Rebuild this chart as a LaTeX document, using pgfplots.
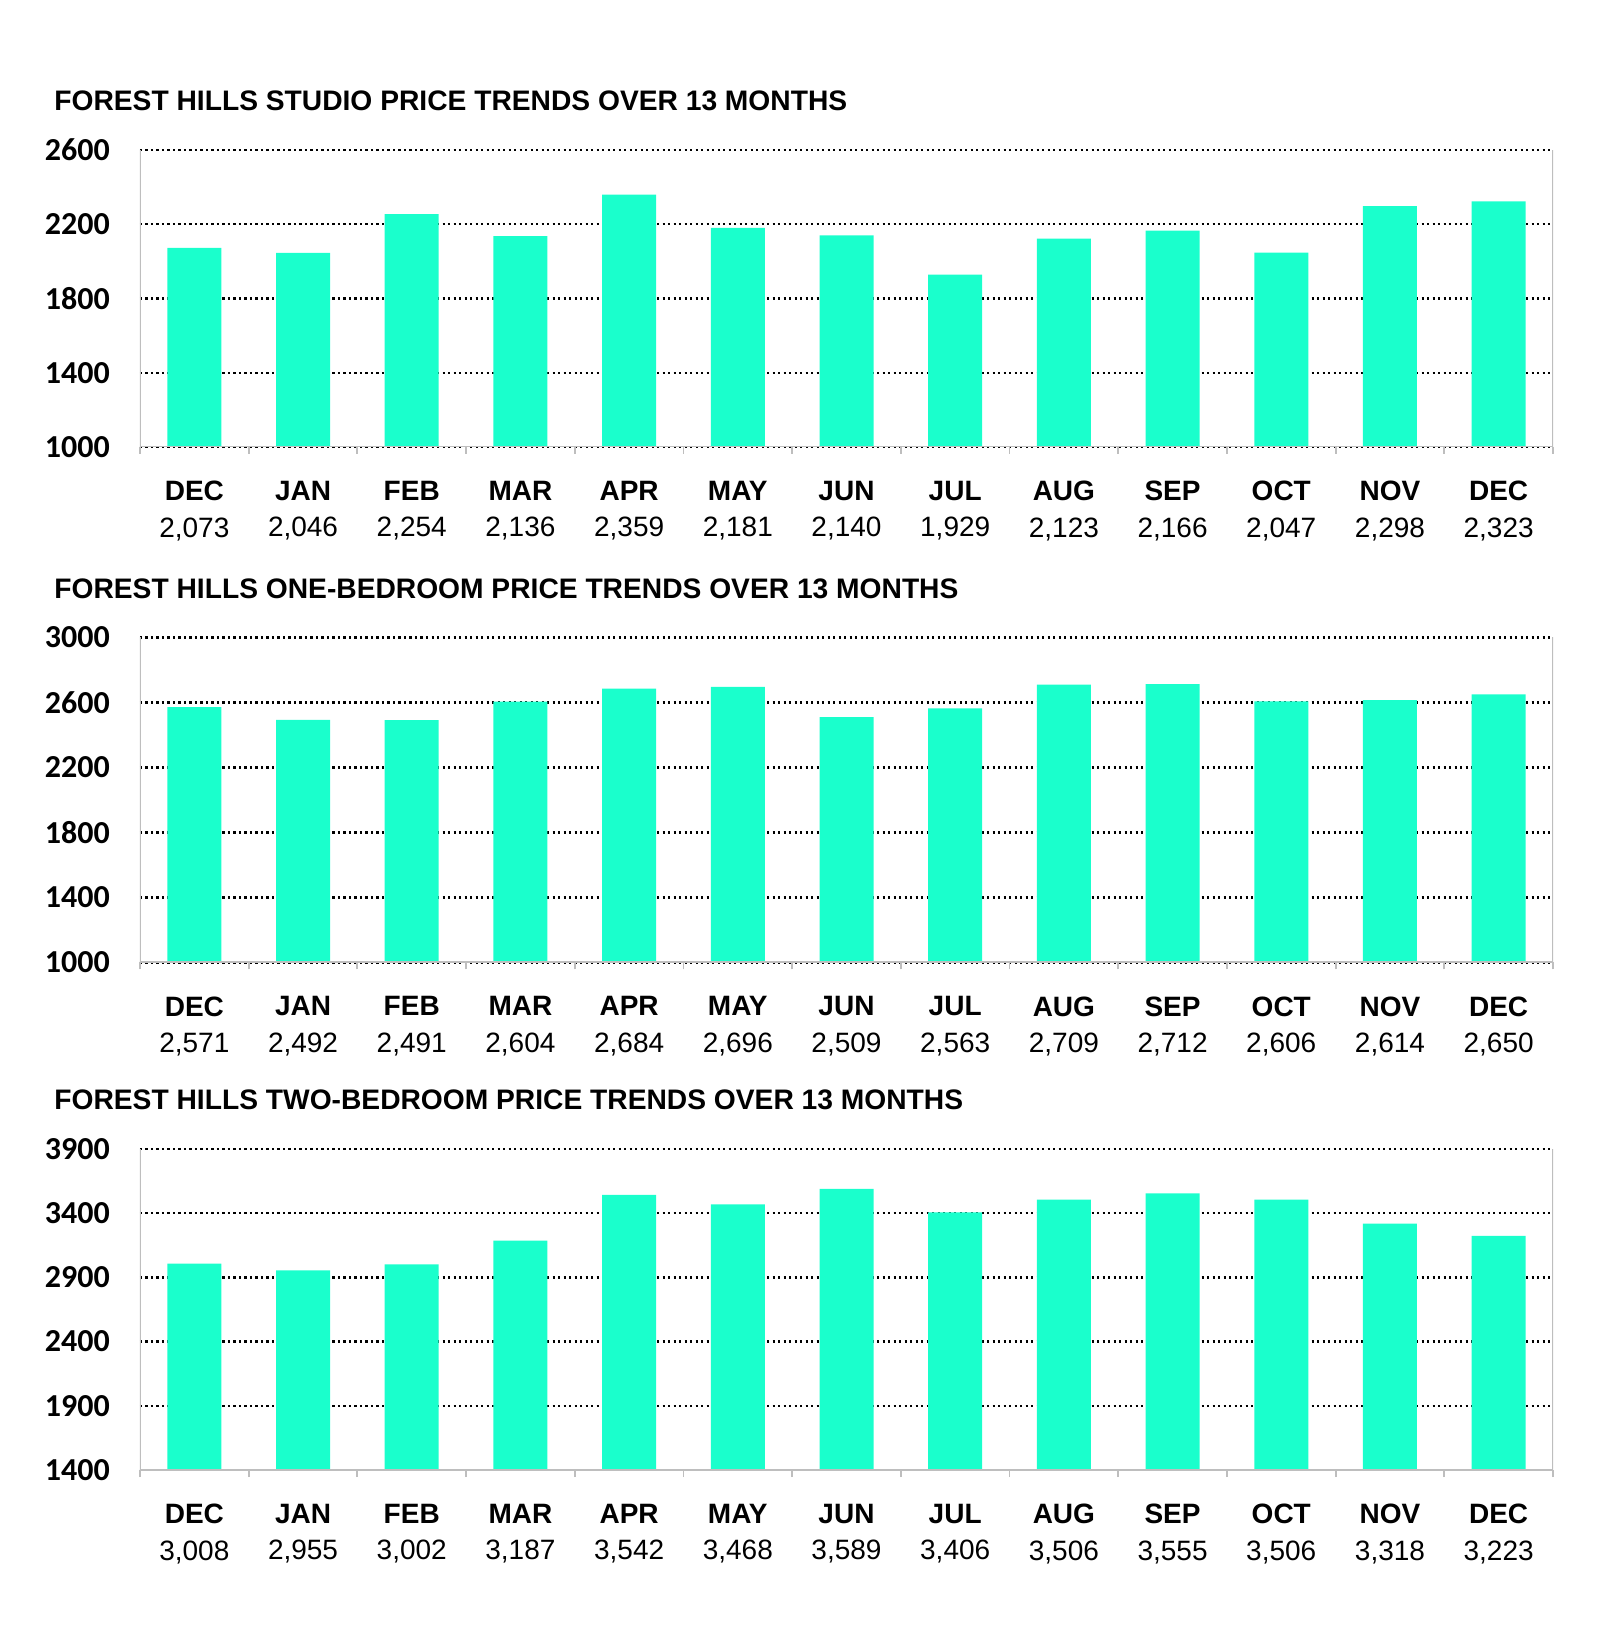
\documentclass[border=0pt]{standalone}
\usepackage{pgfplots}
\pgfplotsset{compat=1.18}
\usepackage{fontspec}
\setmainfont{Liberation Sans}
\newfontfamily\carlito{Carlito}
\definecolor{barc}{RGB}{26,255,204}
\definecolor{axgray}{RGB}{190,190,190}
\pgfplotsset{
  panel/.style={
    scale only axis, width=706.5pt,
    xmin=-0.5, xmax=12.5,
    xtick={0,...,12},
    minor xtick={-0.5,0.5,...,12.5},
    major tick length=0pt, minor tick length=3.5pt,
    tick align=outside,
    minor tick style={axgray, line width=0.9pt},
    axis x line*=bottom, axis y line*=left,
    axis line style={draw=none},
    ymajorgrids,
    major grid style={black, line width=1.2pt, dash pattern=on 1.2pt off 1.55pt},
    /pgf/number format/assume math mode=true,
    /pgf/number format/1000 sep={},
    yticklabel style={font=\carlito\bfseries\fontsize{16}{16}\selectfont, xshift=-11.6pt},
    xticklabel style={font=\fontsize{14}{18.2}\selectfont, align=center, yshift=-13.5pt},
    ybar, bar width=27pt,
  },
  barstyle/.style={fill=barc, draw=none, bar shift=0pt},
}
\newcommand\frameit{\draw[axgray, line width=0.6pt] (rel axis cs:0,1) -- (rel axis cs:0,0);
  \draw[axgray, line width=0.6pt] (rel axis cs:1,1) -- (rel axis cs:1,0);
  \draw[axgray, line width=0.9pt] (rel axis cs:0,0) -- (rel axis cs:1,0);}
\begin{document}
\begin{tikzpicture}
\path (0,0) rectangle (800pt,814.5pt);
% Titles
\node[anchor=base west, inner sep=0pt, font=\bfseries\fontsize{14.1}{17}\selectfont] at (27pt,759pt) {FOREST HILLS STUDIO PRICE TRENDS OVER 13 MONTHS};
\node[anchor=base west, inner sep=0pt, font=\bfseries\fontsize{14.1}{17}\selectfont] at (27pt,515pt) {FOREST HILLS ONE-BEDROOM PRICE TRENDS OVER 13 MONTHS};
\node[anchor=base west, inner sep=0pt, font=\bfseries\fontsize{14.1}{17}\selectfont] at (27pt,259.7pt) {FOREST HILLS TWO-BEDROOM PRICE TRENDS OVER 13 MONTHS};

\begin{axis}[panel, at={(70pt,591pt)}, height=148.5pt,
  ymin=1000, ymax=2600, ytick={1000,1400,...,2600},
  xticklabels={{\textbf{DEC}\\2,073},{\textbf{JAN}\\2,046},{\textbf{FEB}\\2,254},{\textbf{MAR}\\2,136},{\textbf{APR}\\2,359},{\textbf{MAY}\\2,181},{\textbf{JUN}\\2,140},{\textbf{JUL}\\1,929},{\textbf{AUG}\\2,123},{\textbf{SEP}\\2,166},{\textbf{OCT}\\2,047},{\textbf{NOV}\\2,298},{\textbf{DEC}\\2,323}}]
\addplot[barstyle] coordinates {(0,2073) (1,2046) (2,2254) (3,2136) (4,2359) (5,2181) (6,2140) (7,1929) (8,2123) (9,2166) (10,2047) (11,2298) (12,2323)};
\frameit
\end{axis}

\begin{axis}[panel, at={(70pt,333.3pt)}, height=162.5pt,
  ymin=1000, ymax=3000, ytick={1000,1400,...,3000},
  xticklabels={{\textbf{DEC}\\2,571},{\textbf{JAN}\\2,492},{\textbf{FEB}\\2,491},{\textbf{MAR}\\2,604},{\textbf{APR}\\2,684},{\textbf{MAY}\\2,696},{\textbf{JUN}\\2,509},{\textbf{JUL}\\2,563},{\textbf{AUG}\\2,709},{\textbf{SEP}\\2,712},{\textbf{OCT}\\2,606},{\textbf{NOV}\\2,614},{\textbf{DEC}\\2,650}}]
\addplot[barstyle] coordinates {(0,2571) (1,2492) (2,2491) (3,2604) (4,2684) (5,2696) (6,2509) (7,2563) (8,2709) (9,2712) (10,2606) (11,2614) (12,2650)};
\frameit
\end{axis}

\begin{axis}[panel, at={(70pt,79.5pt)}, height=160.5pt,
  ymin=1400, ymax=3900, ytick={1400,1900,...,3900},
  xticklabels={{\textbf{DEC}\\3,008},{\textbf{JAN}\\2,955},{\textbf{FEB}\\3,002},{\textbf{MAR}\\3,187},{\textbf{APR}\\3,542},{\textbf{MAY}\\3,468},{\textbf{JUN}\\3,589},{\textbf{JUL}\\3,406},{\textbf{AUG}\\3,506},{\textbf{SEP}\\3,555},{\textbf{OCT}\\3,506},{\textbf{NOV}\\3,318},{\textbf{DEC}\\3,223}}]
\addplot[barstyle] coordinates {(0,3008) (1,2955) (2,3002) (3,3187) (4,3542) (5,3468) (6,3589) (7,3406) (8,3506) (9,3555) (10,3506) (11,3318) (12,3223)};
\frameit
\end{axis}
\end{tikzpicture}
\end{document}
